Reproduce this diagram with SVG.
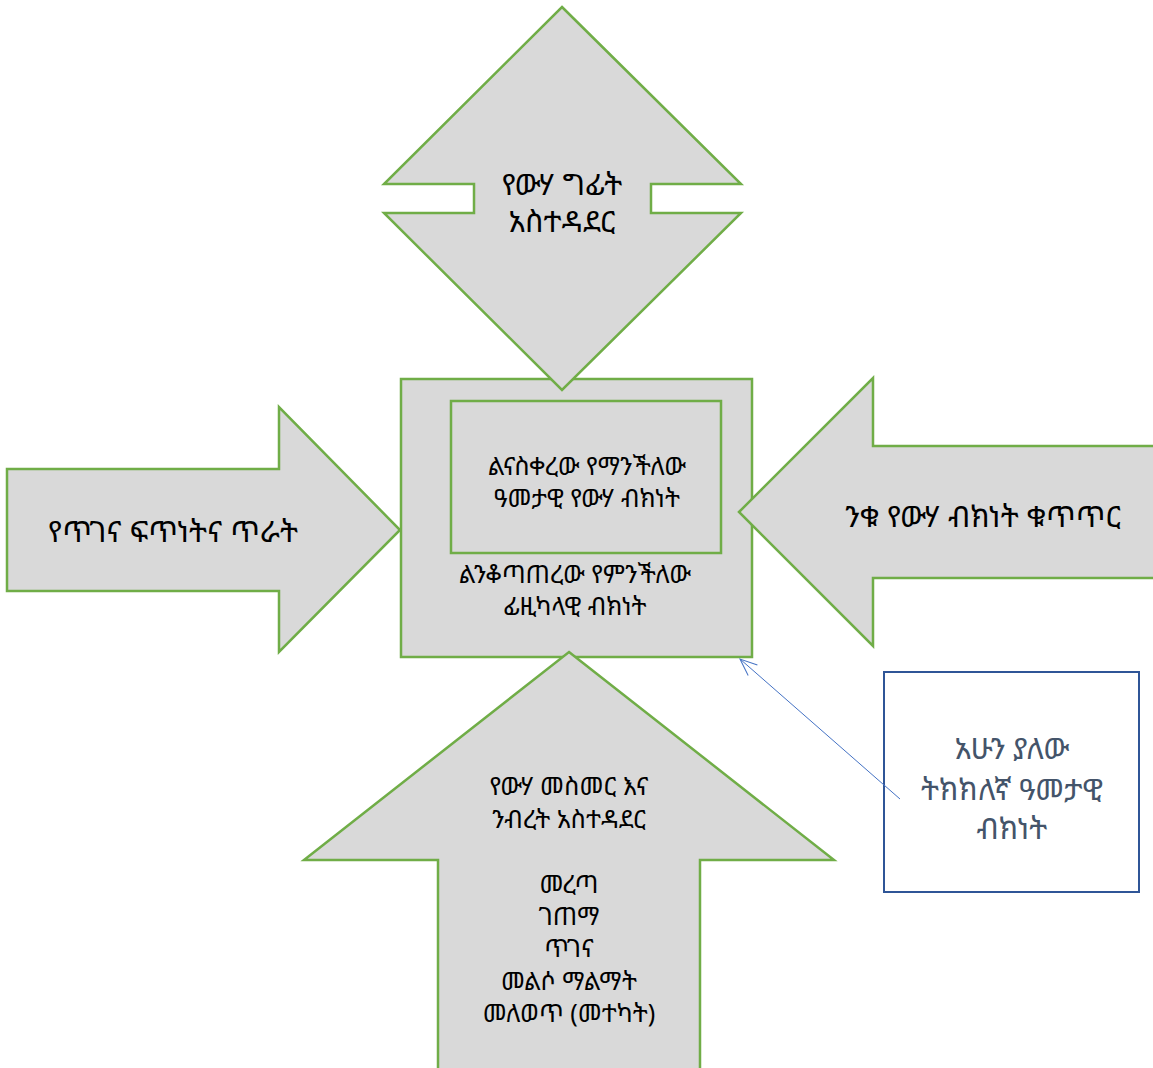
<svg xmlns="http://www.w3.org/2000/svg" width="1153" height="1068" viewBox="0 0 1153 1068">
<style>
.sh{fill:#D9D9D9;stroke:#70AD47;stroke-width:2.5;stroke-linejoin:miter}
.t{font-family:"Noto Sans Ethiopic","Abyssinica SIL","Noto Sans","DejaVu Sans",sans-serif;fill:#000;text-anchor:middle;dominant-baseline:central}
.big{font-size:30px}
.sm{font-size:25px}
.call{fill:#44546A}
</style>
<defs>
<marker id="open" markerWidth="20" markerHeight="20" refX="18" refY="10" orient="auto" markerUnits="userSpaceOnUse">
<path d="M1,3 L18,10 L1,17" fill="none" stroke="#4472C4" stroke-width="1"/>
</marker>
</defs>
<rect width="1153" height="1068" fill="#fff"/>
<g id="left-arrow">
<polygon class="sh" points="7,469 279,469 279,407 400,530 279,652 279,591 7,591"/>
<text class="t big" x="173" y="530">የጥገና ፍጥነትና ጥራት</text>
</g>
<g id="center-box">
<rect class="sh" x="401" y="379" width="351" height="278"/>
</g>
<g id="top-arrow">
<polygon class="sh" points="562,7 741,184 651,184 651,213 741,213 562,390 384,213 474,213 474,184 384,184"/>
<text class="t big" x="562" y="183">የውሃ ግፊት</text>
<text class="t big" x="562" y="220">አስተዳደር</text>
</g>
<g id="right-arrow">
<polygon class="sh" points="739,512 873,378 873,446 1160,446 1160,578 873,578 873,646"/>
<text class="t big" x="983" y="515">ንቁ የውሃ ብክነት ቁጥጥር</text>
</g>
<g id="bottom-arrow">
<polygon class="sh" points="569,652 834,860 700,860 700,1075 438,1075 438,860 304,860"/>
<text class="t sm" x="569" y="785">የውሃ መስመር እና</text>
<text class="t sm" x="569" y="818">ንብረት አስተዳደር</text>
<text class="t sm" x="569" y="883">መረጣ</text>
<text class="t sm" x="569" y="915">ገጠማ</text>
<text class="t sm" x="569" y="947">ጥገና</text>
<text class="t sm" x="569" y="980">መልሶ ማልማት</text>
<text class="t sm" x="569" y="1012">መለወጥ (መተካት)</text>
</g>
<g id="inner-box">
<rect class="sh" x="451" y="401" width="270" height="152"/>
<text class="t sm" x="587" y="465">ልናስቀረው የማንችለው</text>
<text class="t sm" x="587" y="497">ዓመታዊ የውሃ ብክነት</text>
</g>
<g id="center-box-label">
<text class="t sm" x="575" y="573">ልንቆጣጠረው የምንችለው</text>
<text class="t sm" x="575" y="605">ፊዚካላዊ ብክነት</text>
</g>
<g id="callout">
<rect x="884" y="672" width="255" height="220" fill="#fff" stroke="#2F5597" stroke-width="2"/>
<text class="t big call" x="1012" y="747">አሁን ያለው</text>
<text class="t big call" x="1012" y="788">ትክክለኛ ዓመታዊ</text>
<text class="t big call" x="1012" y="827">ብክነት</text>
</g>
<g id="connectors">
<line x1="900" y1="799" x2="740" y2="659" stroke="#4472C4" stroke-width="1" marker-end="url(#open)"/>
</g>
</svg>
